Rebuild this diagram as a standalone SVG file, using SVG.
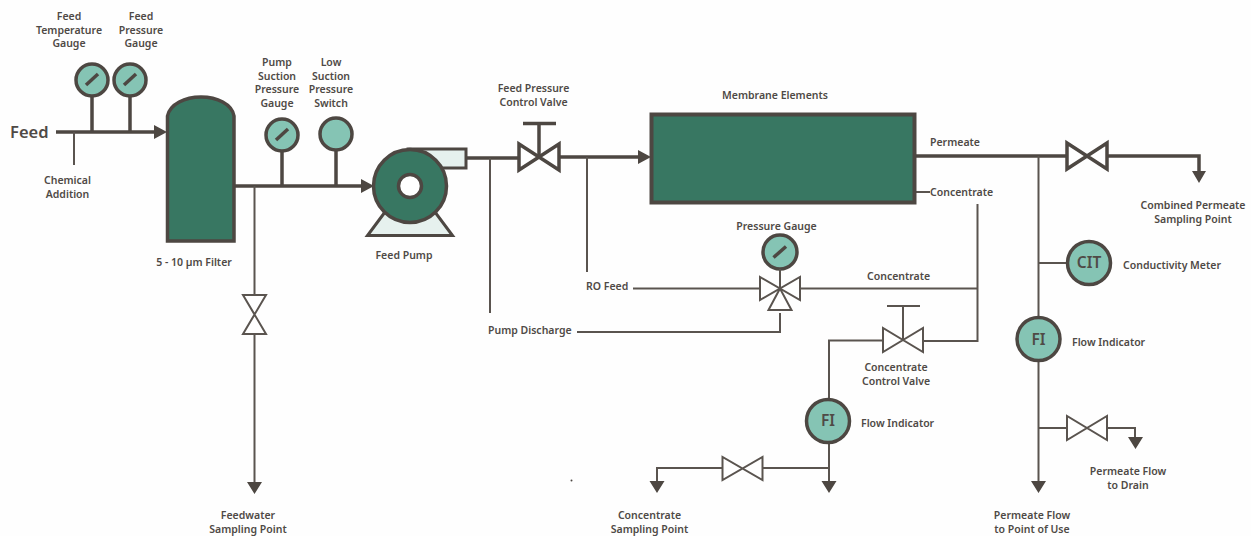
<svg xmlns="http://www.w3.org/2000/svg" width="1251" height="536" viewBox="0 0 1251 536">
<style>
text{font-family:"Noto Sans","Open Sans","Liberation Sans",sans-serif;font-size:10.5px;font-weight:600;fill:#4f4a46;text-anchor:middle}
.l{text-anchor:start}
.p{fill:none;stroke:#4d4742;stroke-width:3.5}
.t{fill:none;stroke:#5a544f;stroke-width:2}
.v{fill:#fff;stroke:#4d4742;stroke-width:3.5;stroke-linejoin:miter}
.vt{fill:#fff;stroke:#5a544f;stroke-width:2}
.g{fill:#85c4b4;stroke:#4d4742;stroke-width:3.5}
.n{stroke:#4d4742;stroke-width:3.5;stroke-linecap:butt}
.a{fill:#4d4742}
</style>
<rect width="1251" height="536" fill="#fefefe"/>
<g id="connectors">
<path class="p" d="M56 132H155M92 96V132M130 96V132"/>
<path class="t" d="M74 132V165"/>
<path class="p" d="M235 186H362M282 151V186M336 150V186"/>
<path class="t" d="M254.500 186V295M254.500 335V483"/>
<path class="p" d="M466 158H520M560 157H640"/>
<path class="t" d="M490 158V313M587 157V272"/>
<path class="p" d="M915 156H1067M1107 156H1199V173"/>
<path class="t" d="M1038.500 156V317M1038.500 361V482M1038.500 263H1067M1038.500 428H1067M1107 428H1135V438"/>
<path class="t" d="M915 192H930M977.500 204V341H923M883 340.500H829V399M829 443V482M829 468H763M722 468H657V482M800 288.500H977.500M633 288.500H760M577 332H780V313"/>
<path class="a" d="M154 125L167 132L154 139ZM361 179L374 186L361 193ZM638 150L651 157L638 164ZM247 482H262L254.500 494ZM1192 171H1206L1199 183ZM1031 481H1046L1038.500 493ZM1128 437H1143L1135.500 449ZM821.500 481H836.500L829 493ZM649.500 481H664.500L657 493Z"/>
</g>
<g id="feed-temperature-gauge"><circle class="g" cx="92" cy="80" r="16"/><path class="n" d="M86 85L98 74"/><text x="69" y="20">Feed</text><text x="69" y="33.500">Temperature</text><text x="69" y="47">Gauge</text></g>
<g id="feed-pressure-gauge"><circle class="g" cx="130" cy="80" r="16"/><path class="n" d="M124 85L136 74"/><text x="141" y="20">Feed</text><text x="141" y="33.500">Pressure</text><text x="141" y="47">Gauge</text></g>
<g id="feed-label"><text class="l" x="10" y="138" style="font-size:16.5px">Feed</text></g>
<g id="chemical-addition"><text x="67.500" y="184">Chemical</text><text x="67.500" y="197.500">Addition</text></g>
<g id="filter"><path d="M167.500 241V116C170 104 185 97 201 97C217 97 232 104 234 116V241Z" fill="#387762" stroke="#4d4742" stroke-width="3.500"/><text x="194" y="266">5 - 10 µm Filter</text></g>
<g id="pump-suction-gauge"><circle class="g" cx="282" cy="135" r="16"/><path class="n" d="M276 140L288 129"/><text x="277" y="66">Pump</text><text x="277" y="79.500">Suction</text><text x="277" y="93">Pressure</text><text x="277" y="106.500">Gauge</text></g>
<g id="low-suction-switch"><circle class="g" cx="336" cy="134" r="16"/><text x="331" y="66">Low</text><text x="331" y="79.500">Suction</text><text x="331" y="93">Pressure</text><text x="331" y="106.500">Switch</text></g>
<g id="feed-pump">
<path d="M388 208L367.500 235.500H452.500L432 208Z" fill="#e6f1ee" stroke="#4d4742" stroke-width="3"/>
<path d="M410 149H466V168H430Z" fill="#e6f1ee" stroke="#4d4742" stroke-width="3"/>
<circle cx="410" cy="186" r="36.500" fill="#387762" stroke="#4d4742" stroke-width="3.500"/>
<circle cx="410" cy="186" r="11.500" fill="#fff" stroke="#4d4742" stroke-width="3.500"/>
<text x="404" y="259">Feed Pump</text></g>
<g id="feed-valve"><path class="v" d="M519 144V170L559 144V170Z"/><path class="n" d="M539 157V123M523 123.500H556"/><text x="533.500" y="92">Feed Pressure</text><text x="533.500" y="106">Control Valve</text></g>
<g id="membrane"><rect x="651.500" y="114.500" width="263" height="88" fill="#387762" stroke="#4d4742" stroke-width="4"/><text x="775" y="99">Membrane Elements</text></g>
<g id="permeate-label"><text class="l" x="930" y="146">Permeate</text></g>
<g id="concentrate-label"><text class="l" x="930" y="196">Concentrate</text></g>
<g id="permeate-valve"><path class="v" d="M1067 143V169L1107 143V169Z"/><text x="1193" y="209">Combined Permeate</text><text x="1193" y="222.500">Sampling Point</text></g>
<g id="cit"><circle class="g" cx="1089" cy="263" r="21.500"/><text x="1089" y="268" style="font-size:15.5px">CIT</text><text class="l" x="1123" y="269">Conductivity Meter</text></g>
<g id="fi-permeate"><circle class="g" cx="1038.500" cy="339" r="21.500"/><text x="1038.500" y="344.500" style="font-size:15.5px">FI</text><text class="l" x="1072" y="346">Flow Indicator</text></g>
<g id="drain-valve"><path class="vt" d="M1067 416V440L1107 416V440Z"/><text x="1128" y="475">Permeate Flow</text><text x="1128" y="488.500">to Drain</text></g>
<g id="point-of-use"><text x="1032" y="519">Permeate Flow</text><text x="1032" y="532.500">to Point of Use</text></g>
<g id="pressure-gauge"><circle class="g" cx="780" cy="252" r="17"/><path class="n" d="M773.500 257.500L786 246.500"/><path class="t" d="M780 269V289"/><text x="776.500" y="230">Pressure Gauge</text></g>
<g id="three-way-valve"><path class="vt" d="M760 277V300L800 277V300Z"/><path class="vt" d="M780 288.500L768.500 310H791.500Z"/><text x="867" y="280" class="l">Concentrate</text></g>
<g id="ro-feed"><text class="l" x="586" y="290">RO Feed</text></g>
<g id="pump-discharge"><text class="l" x="488" y="334">Pump Discharge</text></g>
<g id="concentrate-valve"><path class="vt" d="M883 328V352L923 328V352Z"/><path class="t" d="M903 340V306M887 306H920"/><text x="896" y="371">Concentrate</text><text x="896" y="384.500">Control Valve</text></g>
<g id="fi-concentrate"><circle class="g" cx="828" cy="421" r="21.500"/><text x="828" y="426" style="font-size:15.5px">FI</text><text class="l" x="861" y="427">Flow Indicator</text></g>
<g id="concentrate-sampling-valve"><path class="vt" d="M722.500 457V480L762.500 457V480Z"/><text x="649.500" y="519">Concentrate</text><text x="649.500" y="532.500">Sampling Point</text></g>
<g id="feedwater-sampling-valve"><path class="vt" d="M243 295H266L243 334H266Z"/><text x="248" y="519">Feedwater</text><text x="248" y="532.500">Sampling Point</text></g>
<circle cx="571.500" cy="480.500" r="1" fill="#4d4742"/>
</svg>
